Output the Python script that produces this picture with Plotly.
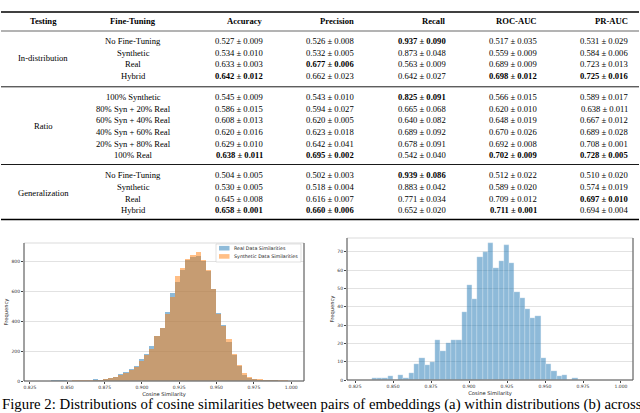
import plotly.graph_objects as go

W, H = 640, 413

# ---------------- table data ----------------
metric_names = ["Accuracy", "Precision", "Recall", "ROC-AUC", "PR-AUC"]
testing_groups = ["In-distribution", "Ratio", "Generalization"]
group_sizes = [4, 6, 4]
fine_tuning = ["No Fine-Tuning", "Synthetic", "Real", "Hybrid",
               "100% Synthetic", "80% Syn + 20% Real", "60% Syn + 40% Real",
               "40% Syn + 60% Real", "20% Syn + 80% Real", "100% Real",
               "No Fine-Tuning", "Synthetic", "Real", "Hybrid"]

accuracy = [0.527, 0.534, 0.633, 0.642, 0.545, 0.586, 0.608, 0.620, 0.629, 0.638, 0.504, 0.530, 0.645, 0.658]
accuracy_sd = [0.009, 0.010, 0.003, 0.012, 0.009, 0.015, 0.013, 0.016, 0.010, 0.011, 0.005, 0.005, 0.008, 0.001]
precision = [0.526, 0.532, 0.677, 0.662, 0.543, 0.594, 0.620, 0.623, 0.642, 0.695, 0.502, 0.518, 0.616, 0.660]
precision_sd = [0.008, 0.005, 0.006, 0.023, 0.010, 0.027, 0.005, 0.018, 0.041, 0.002, 0.003, 0.004, 0.007, 0.006]
recall = [0.937, 0.873, 0.563, 0.642, 0.825, 0.665, 0.640, 0.689, 0.678, 0.542, 0.939, 0.883, 0.771, 0.652]
recall_sd = [0.090, 0.048, 0.009, 0.027, 0.091, 0.068, 0.082, 0.092, 0.091, 0.040, 0.086, 0.042, 0.034, 0.020]
roc_auc = [0.517, 0.559, 0.689, 0.698, 0.566, 0.620, 0.648, 0.670, 0.692, 0.702, 0.512, 0.589, 0.709, 0.711]
roc_auc_sd = [0.035, 0.009, 0.009, 0.012, 0.015, 0.010, 0.019, 0.026, 0.008, 0.009, 0.022, 0.020, 0.012, 0.001]
pr_auc = [0.531, 0.584, 0.723, 0.725, 0.589, 0.638, 0.667, 0.689, 0.708, 0.728, 0.510, 0.574, 0.697, 0.694]
pr_auc_sd = [0.029, 0.006, 0.013, 0.016, 0.017, 0.011, 0.012, 0.028, 0.001, 0.005, 0.020, 0.019, 0.010, 0.004]

# ---------------- histogram data ----------------
cos_ticks = [0.825, 0.850, 0.875, 0.900, 0.925, 0.950, 0.975, 1.000]

# (a) within distributions
real_counts = [0, 0, 0, 1, 2, 2, 0, 0, 0, 0,
               0, 11, 3, 10, 18, 30, 48, 60, 78, 100,
               148, 178, 232, 300, 355, 460, 584, 660, 740, 810,
               830, 835, 800, 735, 612, 451, 372, 258, 173, 100,
               40, 22, 9, 5, 3, 2, 1, 0, 0, 0]
synthetic_counts = [0, 0, 0, 0, 0, 0, 0, 2, 2, 3,
                    3, 4, 6, 12, 20, 26, 42, 54, 72, 95,
                    132, 172, 216, 302, 352, 444, 560, 700, 755, 815,
                    840, 858, 805, 740, 615, 444, 369, 280, 180, 107,
                    51, 29, 13, 7, 4, 3, 2, 1, 3, 0]
left_bin_start, left_bin_width = 0.829, 0.00345
left_yticks = [0, 200, 400, 600, 800]

# (b) across distributions
cross_counts = [1, 1, 1, 2, 0, 3, 1, 4, 9, 12,
                8, 10, 22, 16, 20, 22, 22, 37, 52, 44,
                67, 70, 75, 61, 65, 74, 64, 48, 45, 39,
                34, 35, 12, 9, 5, 2, 3, 0, 1]
right_bin_start, right_bin_width = 0.836, 0.003475
right_yticks = [0, 10, 20, 30, 40, 50, 60, 70]

caption = ("Figure 2: Distributions of cosine similarities between pairs of "
           "embeddings (a) within distributions (b) across")


def px(x):
    return x / W


def py(y):
    return 1 - y / H


SERIF = "Liberation Serif"
SANS = "DejaVu Sans"

fig = go.Figure()

# ---------------- histograms ----------------
left_x = [left_bin_start + (i + 0.5) * left_bin_width for i in range(len(real_counts))]
right_x = [right_bin_start + (i + 0.5) * right_bin_width for i in range(len(cross_counts))]

fig.add_trace(go.Bar(x=left_x, y=real_counts, width=left_bin_width,
                     marker=dict(color="#1f77b4", line=dict(width=0)), opacity=0.5,
                     name="Real Data Similarities", xaxis="x", yaxis="y"))
fig.add_trace(go.Bar(x=left_x, y=synthetic_counts, width=left_bin_width,
                     marker=dict(color="#ff7f0e", line=dict(width=0)), opacity=0.5,
                     name="Synthetic Data Similarities", xaxis="x", yaxis="y"))
fig.add_trace(go.Bar(x=right_x, y=cross_counts, width=right_bin_width,
                     marker=dict(color="#1f77b4", line=dict(width=0.25, color="#dbe8f3")),
                     opacity=0.5, name="Cross", xaxis="x2", yaxis="y2"))

tickfont = dict(size=4.5, color="#333", family=SANS)
titlefont = dict(size=5.2, color="#222", family=SANS)
xcommon = dict(tickvals=cos_ticks, ticktext=[f"{v:.3f}" for v in cos_ticks],
               ticks="outside", ticklen=2, tickwidth=0.6, tickcolor="#444",
               tickfont=tickfont, showgrid=False, zeroline=False, showline=False,
               automargin=False,
               title=dict(text="Cosine Similarity", font=titlefont, standoff=2))
ycommon = dict(ticks="outside", ticklen=2, tickwidth=0.6, tickcolor="#444",
               tickfont=tickfont, showgrid=True, gridcolor="#e2e2e2", gridwidth=0.7,
               zeroline=False, showline=False, automargin=False,
               title=dict(text="Frequency", font=titlefont, standoff=2))

fig.update_layout(
    template="none",
    width=W, height=H,
    margin=dict(l=0, r=0, t=0, b=0),
    paper_bgcolor="white", plot_bgcolor="white",
    barmode="overlay", bargap=0, showlegend=False,
    font=dict(family=SERIF, color="black"),
    xaxis=dict(domain=[px(24), px(304)], range=[0.821, 1.0086], anchor="y", **xcommon),
    yaxis=dict(domain=[py(381), py(243)], range=[0, 920], tickvals=left_yticks,
               anchor="x", **ycommon),
    xaxis2=dict(domain=[px(347), px(633)], range=[0.8197, 1.0079], anchor="y2", **xcommon),
    yaxis2=dict(domain=[py(380), py(238)], range=[0, 77.6], tickvals=right_yticks,
                anchor="x2", **ycommon),
)

shapes = []
for xa, ya in [("x", "y"), ("x2", "y2")]:
    shapes.append(dict(type="rect", xref=f"{xa} domain", yref=f"{ya} domain",
                       x0=0, x1=1, y0=0, y1=1, line=dict(color="#d2d2d2", width=0.8)))
    for x0, x1, y0, y1 in [(0, 0, 0, 1), (1, 1, 0, 1), (0, 1, 0, 0)]:
        shapes.append(dict(type="line", xref=f"{xa} domain", yref=f"{ya} domain",
                           x0=x0, x1=x1, y0=y0, y1=y1, line=dict(color="#555", width=1)))

# legend of the left histogram
shapes.append(dict(type="rect", xref="paper", yref="paper", x0=px(216), x1=px(301),
                   y0=py(262), y1=py(244), fillcolor="white",
                   line=dict(color="#cccccc", width=0.6)))
legend_items = [("Real Data Similarities", "#1f77b4", 248.2),
                ("Synthetic Data Similarities", "#ff7f0e", 256.4)]
annotations = []
for label, color, yc in legend_items:
    shapes.append(dict(type="rect", xref="paper", yref="paper", x0=px(219), x1=px(229.5),
                       y0=py(yc + 2.3), y1=py(yc - 2.3), fillcolor=color, opacity=0.5,
                       line=dict(width=0)))
    annotations.append(dict(x=px(232), y=py(yc), xref="paper", yref="paper",
                            xanchor="left", yanchor="middle", showarrow=False, text=label,
                            font=dict(size=4.8, color="#222", family=SANS)))

# ---------------- table ----------------
col_right = [265, 356, 448, 539, 630]
testing_x, ft_x = 43, 133
header_y = 21
group_first = [41, 97, 175.3]
pitch = 11.65
rules = [(12, 1.4), (31, 0.6), (86.8, 0.9), (164.5, 0.9), (219.5, 1.4)]
for y, w in rules:
    shapes.append(dict(type="line", xref="paper", yref="paper", x0=px(1), x1=px(639),
                       y0=py(y), y1=py(y), line=dict(color="black", width=w)))

tfont = dict(size=8.6, family=SERIF, color="black")


def add_text(x, y, text, anchor="center"):
    annotations.append(dict(x=px(x), y=py(y), xref="paper", yref="paper",
                            xanchor=anchor, yanchor="middle", showarrow=False,
                            text=text, font=tfont))


add_text(testing_x, header_y, "<b>Testing</b>")
add_text(ft_x, header_y, "<b>Fine-Tuning</b>")
for name, xr in zip(metric_names, col_right):
    add_text(xr, header_y, f"<b>{name}</b>", "right")

metrics = [(accuracy, accuracy_sd), (precision, precision_sd), (recall, recall_sd),
           (roc_auc, roc_auc_sd), (pr_auc, pr_auc_sd)]
row = 0
for g, (group, size) in enumerate(zip(testing_groups, group_sizes)):
    ys = [group_first[g] + k * pitch for k in range(size)]
    add_text(testing_x, (ys[0] + ys[-1]) / 2, group)
    for k in range(size):
        i = row + k
        add_text(ft_x, ys[k], fine_tuning[i])
        for (vals, sds), xr in zip(metrics, col_right):
            best = max(vals[row:row + size])
            s = f"{vals[i]:.3f} ± {sds[i]:.3f}"
            if vals[i] == best:
                s = f"<b>{s}</b>"
            add_text(xr, ys[k], s, "right")
    row += size

# caption, cut by the bottom edge as in the page crop
annotations.append(dict(x=px(0), y=py(404.5), xref="paper", yref="paper",
                        xanchor="left", yanchor="middle", showarrow=False, text=caption,
                        font=dict(size=14.8, family=SERIF, color="black")))

fig.update_layout(shapes=shapes, annotations=annotations)
fig.write_html("out.html", config={"displayModeBar": False},
               post_script="document.body.style.margin='0';document.body.style.padding='0';")
